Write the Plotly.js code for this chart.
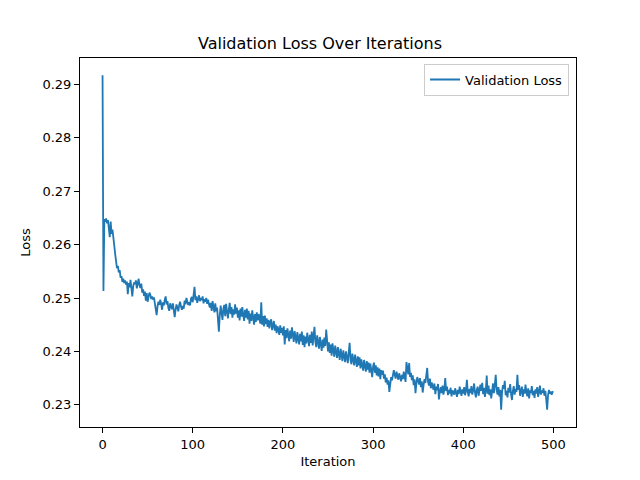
<!DOCTYPE html>
<html>
<head>
<meta charset="utf-8">
<script src="https://cdn.plot.ly/plotly-3.0.1.min.js"></script>
<style>html,body{margin:0;padding:0;background:#fff;}#chart{width:640px;height:480px;}</style>
</head>
<body>
<div id="chart"></div>
<script>
const seriesName = "Validation Loss";
const chartTitle = "Validation Loss Over Iterations";
const xLabel = "Iteration";
const yLabel = "Loss";
const xTicks = [0, 100, 200, 300, 400, 500];
const yTicks = [0.23, 0.24, 0.25, 0.26, 0.27, 0.28, 0.29];

const validationLoss = [
0.2917, 0.2513, 0.2648, 0.2643, 0.2649, 0.2640, 0.2646, 0.2632, 0.2614, 0.2643,
0.2620, 0.2628, 0.2605, 0.2598, 0.2582, 0.2571, 0.2556, 0.2560, 0.2548, 0.2552,
0.2538, 0.2541, 0.2530, 0.2536, 0.2528, 0.2533, 0.2525, 0.2531, 0.2507, 0.2528,
0.2520, 0.2534, 0.2515, 0.2503, 0.2522, 0.2529, 0.2526, 0.2533, 0.2518, 0.2530,
0.2536, 0.2524, 0.2519, 0.2527, 0.2510, 0.2516, 0.2504, 0.2512, 0.2495, 0.2509,
0.2493, 0.2502, 0.2510, 0.2506, 0.2498, 0.2503, 0.2497, 0.2501, 0.2492, 0.2480,
0.2468, 0.2485, 0.2493, 0.2487, 0.2497, 0.2489, 0.2478, 0.2492, 0.2486, 0.2497,
0.2503, 0.2488, 0.2494, 0.2481, 0.2476, 0.2490, 0.2485, 0.2479, 0.2490, 0.2470,
0.2464, 0.2478, 0.2488, 0.2482, 0.2475, 0.2487, 0.2493, 0.2484, 0.2478, 0.2485,
0.2480, 0.2495, 0.2488, 0.2500, 0.2494, 0.2487, 0.2492, 0.2486, 0.2498, 0.2502,
0.2492, 0.2510, 0.2521, 0.2496, 0.2503, 0.2491, 0.2499, 0.2505, 0.2494, 0.2500,
0.2496, 0.2503, 0.2490, 0.2498, 0.2493, 0.2500, 0.2489, 0.2497, 0.2488, 0.2482,
0.2491, 0.2476, 0.2494, 0.2485, 0.2473, 0.2490, 0.2475, 0.2482, 0.2460, 0.2437,
0.2468, 0.2486, 0.2471, 0.2459, 0.2480, 0.2487, 0.2466, 0.2489, 0.2476, 0.2462,
0.2478, 0.2491, 0.2470, 0.2483, 0.2463, 0.2479, 0.2469, 0.2488, 0.2471, 0.2482,
0.2463, 0.2477, 0.2458, 0.2480, 0.2465, 0.2483, 0.2468, 0.2457, 0.2478, 0.2463,
0.2480, 0.2460, 0.2476, 0.2452, 0.2471, 0.2457, 0.2477, 0.2462, 0.2450, 0.2470,
0.2455, 0.2473, 0.2458, 0.2470, 0.2461, 0.2452, 0.2492, 0.2450, 0.2466, 0.2447,
0.2467, 0.2451, 0.2462, 0.2446, 0.2459, 0.2443, 0.2455, 0.2460, 0.2440, 0.2453,
0.2457, 0.2439, 0.2450, 0.2434, 0.2447, 0.2441, 0.2431, 0.2449, 0.2435, 0.2444,
0.2430, 0.2447, 0.2413, 0.2440, 0.2425, 0.2443, 0.2428, 0.2419, 0.2439, 0.2424,
0.2445, 0.2427, 0.2418, 0.2438, 0.2423, 0.2415, 0.2436, 0.2421, 0.2413, 0.2433,
0.2419, 0.2437, 0.2412, 0.2430, 0.2408, 0.2428, 0.2415, 0.2435, 0.2418, 0.2410,
0.2431, 0.2416, 0.2437, 0.2411, 0.2429, 0.2446, 0.2418, 0.2408, 0.2430, 0.2414,
0.2405, 0.2427, 0.2411, 0.2401, 0.2422, 0.2407, 0.2426, 0.2410, 0.2441, 0.2406,
0.2400, 0.2417, 0.2397, 0.2413, 0.2392, 0.2415, 0.2399, 0.2390, 0.2411, 0.2395,
0.2388, 0.2408, 0.2392, 0.2384, 0.2405, 0.2390, 0.2382, 0.2402, 0.2386, 0.2380,
0.2400, 0.2385, 0.2378, 0.2398, 0.2416, 0.2384, 0.2376, 0.2396, 0.2381, 0.2374,
0.2394, 0.2378, 0.2371, 0.2391, 0.2374, 0.2389, 0.2368, 0.2385, 0.2371, 0.2364,
0.2384, 0.2368, 0.2362, 0.2382, 0.2366, 0.2379, 0.2360, 0.2377, 0.2357, 0.2352,
0.2372, 0.2379, 0.2360, 0.2374, 0.2355, 0.2370, 0.2353, 0.2368, 0.2348, 0.2365,
0.2356, 0.2364, 0.2349, 0.2357, 0.2342, 0.2351, 0.2338, 0.2346, 0.2324, 0.2341,
0.2352, 0.2346, 0.2358, 0.2365, 0.2356, 0.2349, 0.2362, 0.2354, 0.2347, 0.2359,
0.2351, 0.2344, 0.2356, 0.2348, 0.2362, 0.2350, 0.2343, 0.2380, 0.2366, 0.2357,
0.2378, 0.2352, 0.2360, 0.2346, 0.2355, 0.2337, 0.2348, 0.2322, 0.2340, 0.2352,
0.2345, 0.2338, 0.2350, 0.2333, 0.2344, 0.2323, 0.2337, 0.2348, 0.2341, 0.2355,
0.2369, 0.2343, 0.2336, 0.2349, 0.2331, 0.2342, 0.2335, 0.2328, 0.2340, 0.2320,
0.2334, 0.2327, 0.2339, 0.2310, 0.2325, 0.2333, 0.2322, 0.2336, 0.2319, 0.2329,
0.2350, 0.2326, 0.2334, 0.2318, 0.2328, 0.2321, 0.2332, 0.2316, 0.2327, 0.2324,
0.2319, 0.2331, 0.2322, 0.2315, 0.2328, 0.2320, 0.2334, 0.2323, 0.2317, 0.2329,
0.2321, 0.2333, 0.2318, 0.2326, 0.2347, 0.2324, 0.2316, 0.2330, 0.2322, 0.2335,
0.2319, 0.2327, 0.2340, 0.2323, 0.2314, 0.2328, 0.2334, 0.2317, 0.2325, 0.2338,
0.2326, 0.2341, 0.2320, 0.2332, 0.2315, 0.2327, 0.2355, 0.2321, 0.2336, 0.2318,
0.2329, 0.2312, 0.2325, 0.2340, 0.2322, 0.2335, 0.2356, 0.2327, 0.2319, 0.2333,
0.2316, 0.2328, 0.2291, 0.2324, 0.2337, 0.2330, 0.2345, 0.2318, 0.2326, 0.2314,
0.2332, 0.2323, 0.2339, 0.2320, 0.2309, 0.2326, 0.2335, 0.2319, 0.2330, 0.2324,
0.2356, 0.2328, 0.2337, 0.2317, 0.2325, 0.2334, 0.2315, 0.2329, 0.2321, 0.2338,
0.2324, 0.2316, 0.2331, 0.2312, 0.2327, 0.2322, 0.2335, 0.2318, 0.2326, 0.2313,
0.2329, 0.2321, 0.2333, 0.2315, 0.2325, 0.2336, 0.2319, 0.2327, 0.2322, 0.2331,
0.2317, 0.2326, 0.2310, 0.2291, 0.2318, 0.2328, 0.2321, 0.2325, 0.2319, 0.2324,
0.2323
];
const iterations = validationLoss.map((_, i) => i);

const font = "DejaVu Sans, sans-serif";
const trace = {
  x: iterations, y: validationLoss, type: "scatter", mode: "lines",
  name: seriesName, line: {color: "#1f77b4", width: 1.8}
};
const axisCommon = {
  showgrid: false, zeroline: false, showline: true, linecolor: "#000", linewidth: 1,
  mirror: true, ticks: "outside", ticklen: 5, tickwidth: 1, tickcolor: "#000",
  tickfont: {family: font, size: 13, color: "#000"}
};
const layout = {
  width: 640, height: 480,
  margin: {l: 80, r: 64, t: 58, b: 53, pad: 0},
  paper_bgcolor: "#fff", plot_bgcolor: "#fff",
  font: {family: font, color: "#000"},
  title: {text: chartTitle, font: {family: font, size: 16, color: "#000"},
          x: 0.5, xanchor: "center", y: 1 - 43/480, yref: "container", yanchor: "middle"},
  xaxis: Object.assign({}, axisCommon, {
    range: [-25, 525], tickvals: xTicks, ticktext: xTicks.map(String),
    title: {text: xLabel, font: {family: font, size: 13, color: "#000"}, standoff: 6}
  }),
  yaxis: Object.assign({}, axisCommon, {
    range: [0.22585, 0.29493], tickvals: yTicks, ticktext: yTicks.map(v => v.toFixed(2)),
    title: {text: yLabel, font: {family: font, size: 13, color: "#000"}, standoff: 8}
  }),
  showlegend: true,
  legend: {x: 0.986, y: 0.985, xanchor: "right", yanchor: "top", itemwidth: 30,
           bgcolor: "rgba(255,255,255,0.8)", bordercolor: "#ccc", borderwidth: 1,
           font: {family: font, size: 13, color: "#000"}}
};
Plotly.newPlot("chart", [trace], layout, {displayModeBar: false, staticPlot: true});
</script>
</body>
</html>
